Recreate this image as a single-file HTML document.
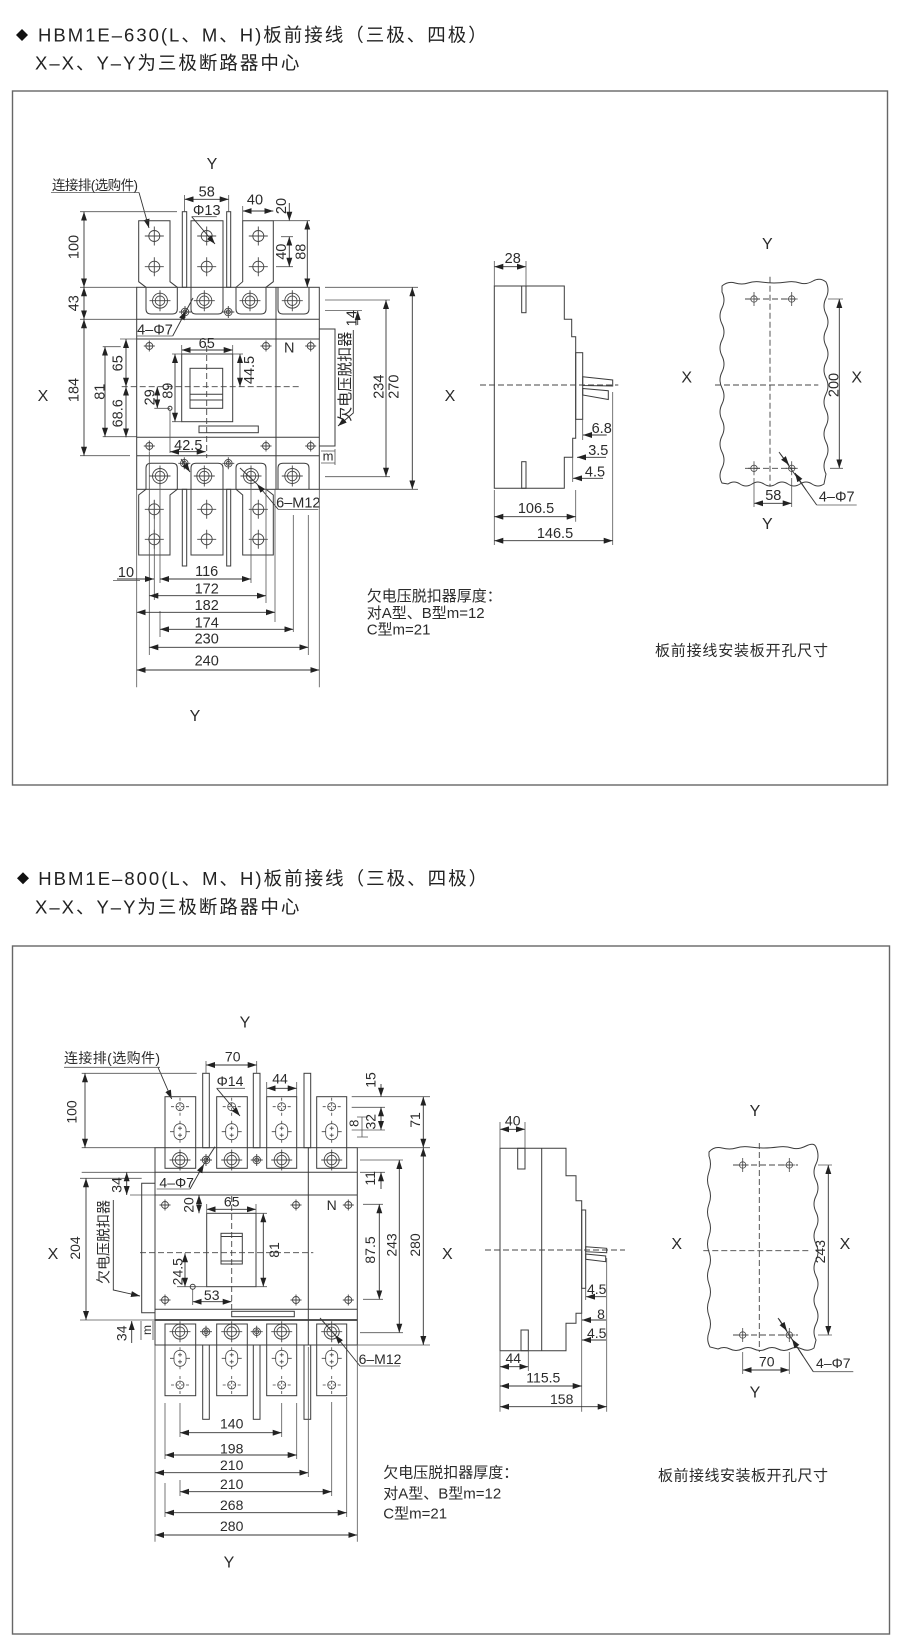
<!DOCTYPE html>
<html><head><meta charset="utf-8"><style>
html,body{margin:0;padding:0;background:#fff}
svg{display:block;font-family:"Liberation Sans","Noto Sans CJK SC",sans-serif}
svg text{fill:#2b2b2b}
.s{stroke:#3c3c3c;stroke-width:1;fill:none}
.e{stroke:#555;stroke-width:.8;fill:none}
.d{stroke:#333;stroke-width:.9;fill:none;marker-start:url(#a);marker-end:url(#a)}
.o{stroke:#333;stroke-width:.9;fill:none;marker-end:url(#a)}
.k{stroke:#444;stroke-width:.9;fill:none;stroke-dasharray:6 3}
.c{text-anchor:middle}
.b{stroke-width:1.8}
.ti{font-size:18.5px;letter-spacing:2px;fill:#222}
</style></head><body>
<svg xmlns="http://www.w3.org/2000/svg" width="904" height="1645" viewBox="0 0 904 1645" font-size="14.5">
<defs>
<marker id="a" viewBox="0 0 9 6" refX="9" refY="3" markerWidth="9" markerHeight="6" markerUnits="userSpaceOnUse" orient="auto-start-reverse"><path d="M0,0L9,3L0,6z" fill="#222"/></marker>
<g id="pl" fill="none" stroke="#444" stroke-width="0.9"><circle r="3.5"/><path d="M-5.5,0H5.5M0,-5.5V5.5"/></g>
<g id="tc" fill="none" stroke="#444" stroke-width="0.9"><circle r="7.5"/><circle r="4.8"/><path d="M-10.5,0H10.5M0,-10.5V10.5"/></g>
<g id="hc" fill="none" stroke="#444" stroke-width="0.9"><circle r="5.5"/><path d="M-9.5,0H9.5M0,-9.5V9.5"/></g>
<g id="h7" fill="none" stroke="#444" stroke-width="0.9"><circle r="3.8"/><circle r="2"/><path d="M-6,0H6M0,-6V6"/></g>
<g id="hs" fill="none" stroke="#444" stroke-width="0.8"><circle r="4"/><path d="M-9,0H9M0,-9V9" stroke-dasharray="3 2"/></g>
<g id="sl" fill="none" stroke="#444" stroke-width="0.8"><rect x="-6" y="-8" width="12" height="16" rx="6"/><path d="M-2,-3.5H2M0,-5.5V-1.5M-2,3.5H2M0,1.5V5.5M-10,0H-6M6,0H10M0,-11V-8M0,8V11"/></g>
<g id="mh" fill="none" stroke="#444" stroke-width="0.8"><circle r="3.2"/><path d="M-6,0H6M0,-7V7"/></g>
</defs>

<!-- ============ TITLES & FRAMES ============ -->
<path d="M22,29L28,35L22,41L16,35Z" fill="#111"/>
<text class="ti" x="38" y="41.5">HBM1E–630(L、M、H)板前接线（三极、四极）</text>
<text class="ti" x="35" y="69.5">X–X、Y–Y为三极断路器中心</text>
<rect x="12.5" y="91" width="875" height="694" fill="none" stroke="#666" stroke-width="1.4"/>

<path d="M23,872.3L29,878.3L23,884.3L17,878.3Z" fill="#111"/>
<text class="ti" x="38.3" y="885">HBM1E–800(L、M、H)板前接线（三极、四极）</text>
<text class="ti" x="35" y="913.5">X–X、Y–Y为三极断路器中心</text>
<rect x="12.5" y="946" width="877" height="688" fill="none" stroke="#666" stroke-width="1.4"/>

<!-- ============ SECTION 1 : FRONT VIEW ============ -->
<text class="c" x="212" y="169" font-size="16">Y</text>
<text x="52" y="190" font-size="13.5" textLength="86" lengthAdjust="spacing">连接排(选购件)</text>
<path class="e" d="M51,192.5H139"/>
<path class="o" d="M139,192.5L149,228"/>

<path class="e" d="M80,211.7H177M80,287.3H136.7M80,319.3H136.7M80,455.7H130M102.7,346.7H120.7M102.7,436.7H136.7M120,339H136.7"/>
<path class="d" d="M84,211.7V287.3"/>
<path class="d" d="M84,287.3V319.3"/>
<path class="d" d="M84,319.3V455.7"/>
<path class="d" d="M105,346.7V436.7"/>
<path class="d" d="M126,339V386.7"/>
<path class="d" d="M126,386.7V437.3"/>
<text class="c" transform="translate(73.3,247) rotate(-90)" y="5">100</text>
<text class="c" transform="translate(73.3,303.3) rotate(-90)" y="5">43</text>
<text class="c" transform="translate(73.3,390) rotate(-90)" y="5">184</text>
<text class="c" transform="translate(99.3,391.7) rotate(-90)" y="5">81</text>
<text class="c" transform="translate(117.3,363.3) rotate(-90)" y="5">65</text>
<text class="c" transform="translate(117.3,413.3) rotate(-90)" y="5">68.6</text>
<text class="c" x="43" y="401" font-size="16">X</text>

<!-- body -->
<rect class="s" x="136.7" y="287.3" width="182.6" height="202"/>
<path class="s" d="M136.7,319.3H319.3M136.7,339H319.3M136.7,437.3H319.3M136.7,455.7H319.3M276,287.3V489.3"/>
<!-- top bars/terminals -->
<path class="s" d="M138.7,220.7H170V281.7L177.3,287.3V309Q177.3,314 172.3,314H151Q146,314 146,309V287.3L138.7,281.7Z"/>
<path class="s" d="M191,220.7H223V309Q223,314 218,314H196Q191,314 191,309Z"/>
<path class="s" d="M242.7,220.7H273.3V281.7L266,287.3V309Q266,314 261,314H241Q236,314 236,309V287.3L242.7,281.7Z"/>
<path class="s" d="M278,287.3V309Q278,314 283,314H304Q309,314 309,309V287.3"/>
<rect class="s" x="182.3" y="211.7" width="4.4" height="75.6"/>
<rect class="s" x="226.7" y="211.7" width="4" height="75.6"/>
<use href="#hc" x="154.3" y="236"/><use href="#hc" x="154.3" y="266.7"/>
<use href="#hc" x="206.7" y="236"/><use href="#hc" x="206.7" y="266.7"/>
<use href="#hc" x="258.3" y="236"/><use href="#hc" x="258.3" y="266.7"/>
<use href="#tc" x="160" y="300.7"/><use href="#tc" x="204.3" y="300.7"/><use href="#tc" x="250" y="300.7"/><use href="#tc" x="292.3" y="300.7"/>
<use href="#h7" x="185" y="312"/><use href="#h7" x="228.3" y="312"/>
<!-- bottom bars/terminals -->
<path class="s" d="M146,489.3V468Q146,463.3 151,463.3H172.3Q177.3,463.3 177.3,468V489.3L170,495V555H138.7V495L146,489.3Z"/>
<path class="s" d="M191,555V468Q191,463.3 196,463.3H218Q223,463.3 223,468V555Z"/>
<path class="s" d="M236,489.3V468Q236,463.3 241,463.3H261Q266,463.3 266,468V489.3L273.3,495V555H242.7V495L236,489.3Z"/>
<path class="s" d="M278,489.3V468Q278,463.3 283,463.3H304Q309,463.3 309,468V489.3"/>
<rect class="s" x="182.3" y="489.3" width="4.4" height="76.7"/>
<rect class="s" x="226.7" y="489.3" width="4" height="76.7"/>
<use href="#tc" x="160" y="476"/><use href="#tc" x="204.3" y="476"/><use href="#tc" x="251" y="476"/><use href="#tc" x="292.3" y="476"/>
<use href="#hc" x="154.3" y="509.3"/><use href="#hc" x="154.3" y="539.3"/>
<use href="#hc" x="206.7" y="509.3"/><use href="#hc" x="206.7" y="539.3"/>
<use href="#hc" x="258.3" y="509.3"/><use href="#hc" x="258.3" y="539.3"/>
<use href="#h7" x="184.3" y="463.3"/><use href="#h7" x="228.3" y="463.3"/>

<!-- small screws -->
<use href="#pl" x="149.3" y="346"/><use href="#pl" x="266" y="346"/><use href="#pl" x="310.7" y="346"/>
<use href="#pl" x="149.3" y="446"/><use href="#pl" x="266" y="446"/><use href="#pl" x="310.7" y="446"/>
<text class="c" x="289.3" y="352.5">N</text>

<!-- handle -->
<rect class="s" x="181.7" y="354" width="51" height="67.7"/>
<rect class="s" x="190" y="368.3" width="32.7" height="40"/>
<path class="s" d="M190,394.3H222.7M190,400H222.7"/>
<path class="k" d="M206.7,346V458"/>
<path class="k" d="M121.7,386.7H301.7"/>
<rect class="s" x="199" y="426" width="59.3" height="6.7"/>
<path class="d" d="M181.7,350H232.7"/>
<path class="e" d="M181.7,345V354M232.7,345V354"/>
<text class="c" x="206.7" y="348">65</text>
<path class="d" d="M240,354V386.7"/>
<path class="e" d="M232.7,354H243"/>
<text class="c" transform="translate(249,370) rotate(-90)" y="5">44.5</text>
<path class="d" d="M175,354V421.7"/>
<path class="e" d="M172,354H181.7M172,421.7H181.7"/>
<text class="c" transform="translate(167.3,390.7) rotate(-90)" y="5">89</text>
<path class="d" d="M157.3,386.7V408.3"/>
<text class="c" transform="translate(149.3,397.3) rotate(-90)" y="5">29</text>
<path class="e" d="M154.3,408.3H170M170,410V453"/>
<circle class="s" cx="170" cy="408.3" r="2"/>
<path class="d" d="M170,451.7H205.7"/>
<text class="c" x="188.3" y="450">42.5</text>

<!-- 4-Φ7 -->
<text class="c" x="155" y="334.5">4–Φ7</text>
<path class="e" d="M136.7,336H172.7"/>
<path class="o" d="M172.7,336L186,311"/>
<path class="s" d="M186,311L193,298"/>

<!-- undervoltage release -->
<path class="s" d="M319.3,329H335V446H319.3"/>
<text class="c" transform="translate(345,376.7) rotate(-90)" y="5" font-size="15">欠电压脱扣器</text>
<path class="o" d="M353.3,330V413L338,426"/>
<path class="e" d="M321,451H335M321,463H335M335,449V465"/>
<text class="c" x="328" y="460.5" font-size="13">m</text>

<!-- right dims -->
<path class="e" d="M325,287.3H418M325,300H390M325,310.5H362M325,476.7H390M319.3,489.3H418"/>
<path class="o" d="M357.7,325V311"/>
<text class="c" transform="translate(351.7,318.3) rotate(-90)" y="5">14</text>
<path class="d" d="M386,300V476.7"/>
<path class="d" d="M412.3,287.3V489.3"/>
<text class="c" transform="translate(378.3,386.7) rotate(-90)" y="5">234</text>
<text class="c" transform="translate(393.3,386.7) rotate(-90)" y="5">270</text>

<!-- top dims -->
<path class="d" d="M184.5,199.3H228.7"/>
<path class="e" d="M184.5,195V211.7M228.7,195V211.7"/>
<text class="c" x="206.7" y="196.5">58</text>
<text class="c" x="206.7" y="215">Φ13</text>
<path class="e" d="M191.7,216.7H216.7"/>
<path class="o" d="M191.7,216.7L215,244"/>
<path class="d" d="M242.7,211H273.3"/>
<path class="e" d="M242.7,206V220.7"/>
<text class="c" x="255" y="204.3">40</text>
<path class="o" d="M289.3,203V220.7"/>
<path class="e" d="M273.3,220.7H310M281,236.7H293M276,266.7H293"/>
<text class="c" transform="translate(281,206) rotate(-90)" y="5">20</text>
<path class="d" d="M289.3,236.7V266.7"/>
<text class="c" transform="translate(281,251.7) rotate(-90)" y="5">40</text>
<path class="d" d="M307.3,220.7V287.3"/>
<text class="c" transform="translate(300.5,251.7) rotate(-90)" y="5">88</text>

<!-- 6-M12 -->
<text class="c" x="298.3" y="507.5">6–M12</text>
<path class="e" d="M278.3,509.5H318.3"/>
<path class="o" d="M278.3,509.5L257,484"/>
<path class="s" d="M257,484L240,468"/>
<path class="o" d="M181,459L190,472"/>

<!-- bottom dims -->
<path class="e" d="M136.7,489.3V687.3M149.3,452V655M154.3,500V600M160,486V583M160,611V637M251,486V583M266,470V603M275,489.3V622M293.3,515V632M308.3,515V655M319.3,489.3V687.3"/>
<path class="o" d="M117,579H154"/>
<text class="c" x="126" y="577">10</text>
<path class="e" d="M113,580.5H140"/>
<path class="d" d="M160,579H251"/>
<text class="c" x="206.7" y="576">116</text>
<path class="d" d="M149.3,595.7H266"/>
<text class="c" x="206.7" y="593.3">172</text>
<path class="d" d="M136.7,612.3H275"/>
<text class="c" x="206.7" y="610">182</text>
<path class="d" d="M160,629.3H293.3"/>
<text class="c" x="206.7" y="627.7">174</text>
<path class="d" d="M149.3,647.3H308.3"/>
<text class="c" x="206.7" y="643.7">230</text>
<path class="d" d="M136.7,670H319.3"/>
<text class="c" x="206.7" y="665.7">240</text>
<text class="c" x="195" y="721" font-size="16">Y</text>

<text x="366.7" y="601" font-size="15">欠电压脱扣器厚度：</text>
<text x="366.7" y="618" font-size="15">对A型、B型m=12</text>
<text x="366.7" y="634.5" font-size="15">C型m=21</text>

<!-- ============ SECTION 1 : SIDE VIEW ============ -->
<path class="s" d="M494.3,286H564.3V319.3H571.7V336.7H575.7V438.3H572.7V457.3H564.3V488.3H494.3Z"/>
<rect class="s" x="521.7" y="286" width="4.3" height="26.7"/>
<rect class="s" x="521.7" y="461.7" width="4.3" height="26.6"/>
<rect class="s" x="575.7" y="352.7" width="7" height="66.6"/>
<path class="s" d="M582.7,376.7L612.7,380V386L582.7,385.5Z"/>
<path class="s" d="M582.7,388.5L608.3,390.7V399.5L582.7,395Z"/>
<path class="k" d="M480,385H618.3"/>
<text class="c" x="450" y="401" font-size="16">X</text>
<path class="d" d="M494.3,266.7H526"/>
<path class="e" d="M494.3,261V286M526,261V286"/>
<text class="c" x="512.7" y="263">28</text>
<path class="o" d="M606.7,435H583"/>
<path class="e" d="M582.7,419.3V440M572.7,457.3V482"/>
<text class="c" x="601.7" y="433">6.8</text>
<path class="o" d="M606,457.3H577"/>
<text class="c" x="598.3" y="455">3.5</text>
<path class="o" d="M603,478.3H573"/>
<text class="c" x="595" y="476.5">4.5</text>
<path class="e" d="M575.7,490V521.7M612.7,392V545M494.3,490V545"/>
<path class="d" d="M494.3,516.7H575.7"/>
<text class="c" x="536" y="513">106.5</text>
<path class="d" d="M494.3,540.7H612.7"/>
<text class="c" x="555" y="538">146.5</text>

<!-- ============ SECTION 1 : CUTOUT PANEL ============ -->
<path class="s" d="M722,286Q728,281 735,283T748,283T761,282T774,283T787,282T800,283T813,281T826,282Q830,290 826,298T826,314T826,330T826,346T826,362T826,378T826,394T826,410T826,426T826,442T826,458T826,474L824,484Q818,488 812,484T800,484T788,484T776,484T764,484T752,484T740,484T728,484L722,483Q718,476 722,468T722,452T722,436T722,420T722,404T722,388T722,372T722,356T722,340T722,324T722,308T722,292L722,286Z"/>
<path class="k" d="M770,276.7V486.7M715,385H818.3M745,299H798M745,468.3H798"/>
<use href="#mh" x="754" y="299"/><use href="#mh" x="791.7" y="299"/><use href="#mh" x="754" y="468.3"/><use href="#mh" x="791.7" y="468.3"/>
<text class="c" x="767.3" y="249" font-size="16">Y</text>
<text class="c" x="767.3" y="529" font-size="16">Y</text>
<text class="c" x="686.7" y="382.5" font-size="16">X</text>
<text class="c" x="856.7" y="382.5" font-size="16">X</text>
<path class="d" d="M839.3,299V468.3"/>
<path class="e" d="M828,299H843M830,468.3H843"/>
<text class="c" transform="translate(833.3,385) rotate(-90)" y="5">200</text>
<path class="d" d="M754,503.3H791.7"/>
<path class="e" d="M754,478V507M791.7,478V507"/>
<text class="c" x="773.3" y="500">58</text>
<text class="c" x="836.7" y="501.5">4–Φ7</text>
<path class="e" d="M816.7,505H856.7"/>
<path class="s" d="M816.7,505L779,452"/>
<path class="o" d="M780,453.5L789,465"/>
<path class="o" d="M806,490L795,473"/>
<text x="655" y="655.5" font-size="15" textLength="173" lengthAdjust="spacing">板前接线安装板开孔尺寸</text>

<!-- ============ SECTION 2 : FRONT VIEW ============ -->
<g font-size="14">
<text class="c" x="245" y="1027.7" font-size="16">Y</text>
<text x="64" y="1063" textLength="96" lengthAdjust="spacing">连接排(选购件)</text>
<path class="e" d="M64,1067.3H160"/>
<path class="o" d="M158,1067.3L171.7,1099"/>

<path class="e" d="M81.7,1073.3H196.7M81.7,1147.7H155M81.7,1172.3H155M130,1195H155M80,1178.3H141.7M80,1320H155"/>
<path class="d" d="M85,1073.3V1147.7"/>
<text class="c" transform="translate(71.7,1112) rotate(-90)" y="5">100</text>
<path class="d" d="M126.7,1172.3V1195"/>
<text class="c" transform="translate(116.7,1185) rotate(-90)" y="5">34</text>
<path class="d" d="M86,1178.3V1320"/>
<text class="c" transform="translate(75,1248) rotate(-90)" y="5">204</text>
<text class="c" x="53" y="1259" font-size="16">X</text>

<path class="s" d="M155,1183.3H141.7V1312.7H155"/>
<path class="e" d="M141,1321V1340M153,1321V1340"/>
<text class="c" transform="translate(147,1330) rotate(-90)" y="4" font-size="12">m</text>
<path class="o" d="M131.7,1343V1321"/>
<text class="c" transform="translate(121.7,1333.3) rotate(-90)" y="5">34</text>
<text class="c" transform="translate(103.3,1242) rotate(-90)" y="5">欠电压脱扣器</text>
<path class="o" d="M113.3,1200V1290L140,1296"/>

<!-- body -->
<rect class="s" x="155" y="1147.7" width="202.3" height="197.3"/>
<path class="s" d="M155,1172.3H357.3M155,1195H357.3M155,1309.3H357.3M308.3,1147.7V1345"/>
<path class="s b" d="M155,1320H357.3"/>
<rect class="s" x="165" y="1096.7" width="30.7" height="71.6"/>
<rect class="s" x="216.7" y="1096.7" width="30.6" height="71.6"/>
<rect class="s" x="266.7" y="1096.7" width="30" height="71.6"/>
<rect class="s" x="316.7" y="1096.7" width="30" height="71.6"/>
<rect class="s" x="202.7" y="1073.3" width="6.6" height="74.4"/>
<rect class="s" x="253.3" y="1073.3" width="6.7" height="74.4"/>
<rect class="s" x="304" y="1073.3" width="6.7" height="74.4"/>
<use href="#hs" x="180" y="1106.7"/><use href="#hs" x="231.7" y="1106.7"/><use href="#hs" x="281.7" y="1106.7"/><use href="#hs" x="331.7" y="1106.7"/>
<use href="#sl" x="180" y="1131.7"/><use href="#sl" x="231.7" y="1131.7"/><use href="#sl" x="281.7" y="1131.7"/><use href="#sl" x="331.7" y="1131.7"/>
<use href="#tc" x="180" y="1160"/><use href="#tc" x="231.7" y="1160"/><use href="#tc" x="281.7" y="1160"/><use href="#tc" x="331.7" y="1160"/>
<use href="#h7" x="206" y="1160"/><use href="#h7" x="256.7" y="1160"/>

<rect class="s" x="165" y="1324" width="30.7" height="71.7"/>
<rect class="s" x="216.7" y="1324" width="30.6" height="71.7"/>
<rect class="s" x="266.7" y="1324" width="30" height="71.7"/>
<rect class="s" x="316.7" y="1324" width="30" height="71.7"/>
<rect class="s" x="202.7" y="1345" width="6.6" height="74.3"/>
<rect class="s" x="253.3" y="1345" width="6.7" height="74.3"/>
<rect class="s" x="304" y="1345" width="6.7" height="74.3"/>
<use href="#tc" x="180" y="1331.7"/><use href="#tc" x="231.7" y="1331.7"/><use href="#tc" x="281.7" y="1331.7"/><use href="#tc" x="331.7" y="1331.7"/>
<use href="#sl" x="180" y="1358.3"/><use href="#sl" x="231.7" y="1358.3"/><use href="#sl" x="281.7" y="1358.3"/><use href="#sl" x="331.7" y="1358.3"/>
<use href="#hs" x="180" y="1385"/><use href="#hs" x="231.7" y="1385"/><use href="#hs" x="281.7" y="1385"/><use href="#hs" x="331.7" y="1385"/>
<use href="#h7" x="206" y="1331.7"/><use href="#h7" x="256.7" y="1331.7"/>

<!-- top dims -->
<path class="d" d="M206,1065H256.7"/>
<path class="e" d="M206,1061V1073.3M256.7,1061V1073.3"/>
<text class="c" x="232.7" y="1061.7">70</text>
<text class="c" x="230" y="1086">Φ14</text>
<path class="e" d="M216.7,1088.3H245"/>
<path class="o" d="M216.7,1088.3L240,1116"/>
<path class="d" d="M266.7,1088.3H296.7"/>
<path class="e" d="M266.7,1082V1096.7M296.7,1082V1096.7"/>
<text class="c" x="280" y="1083.3">44</text>

<!-- right dims -->
<path class="e" d="M351.7,1096.7H430M351.7,1107.3H385M351.7,1130H385M357,1117H368M357,1137H368M362,1117V1137"/>
<path class="o" d="M381,1084V1096.7"/>
<text class="c" transform="translate(370.7,1080) rotate(-90)" y="5">15</text>
<path class="d" d="M381,1107.3V1130"/>
<text class="c" transform="translate(370.7,1121.7) rotate(-90)" y="5">32</text>
<text class="c" transform="translate(353.3,1123.3) rotate(-90)" y="5" font-size="13">8</text>
<path class="d" d="M423.3,1096.7V1147.7"/>
<text class="c" transform="translate(415,1120) rotate(-90)" y="5">71</text>
<path class="e" d="M357.3,1147.7H430M360,1160H403M360,1172.3H385"/>
<path class="o" d="M381,1189V1172.3"/>
<text class="c" transform="translate(370,1178.3) rotate(-90)" y="5">11</text>
<path class="d" d="M399.3,1160V1332.7"/>
<path class="e" d="M360,1332.7H403M363,1204.3H383M363,1299.3H383M357.3,1345H430"/>
<text class="c" transform="translate(391.7,1245) rotate(-90)" y="5">243</text>
<path class="d" d="M379.3,1204.3V1299.3"/>
<text class="c" transform="translate(370,1250) rotate(-90)" y="5">87.5</text>
<path class="d" d="M423.3,1147.7V1345"/>
<text class="c" transform="translate(415,1245) rotate(-90)" y="5">280</text>

<!-- screws and handle -->
<use href="#pl" x="165" y="1205"/><use href="#pl" x="296" y="1205"/><use href="#pl" x="348.3" y="1205"/>
<use href="#pl" x="165" y="1300"/><use href="#pl" x="296" y="1300"/><use href="#pl" x="348.3" y="1300"/>
<text class="c" x="331.7" y="1210">N</text>
<rect class="s" x="206.7" y="1213.3" width="49.3" height="73.4"/>
<rect class="s" x="221" y="1233.3" width="21.3" height="30.7"/>
<path class="s" d="M221,1236.5H242.3M221,1261H242.3"/>
<path class="k" d="M231.7,1196V1312M140,1252.7H313.3"/>
<rect class="s" x="231.7" y="1311.3" width="62.6" height="5.4"/>
<path class="d" d="M206.7,1209.3H256"/>
<path class="e" d="M206.7,1204V1213.3M256,1204V1213.3"/>
<text class="c" x="231.7" y="1206.5">65</text>
<path class="d" d="M263.3,1213.3V1286.7"/>
<path class="e" d="M256,1213.3H267M256,1286.7H267"/>
<text class="c" transform="translate(274,1250) rotate(-90)" y="5">81</text>
<path class="d" d="M199,1195V1213.3"/>
<text class="c" transform="translate(188.3,1205) rotate(-90)" y="5">20</text>
<path class="d" d="M185,1253.3V1286.7"/>
<path class="e" d="M177,1286.7H206.7M192.7,1289V1305"/>
<text class="c" transform="translate(177.3,1271.7) rotate(-90)" y="5">24.5</text>
<circle class="s" cx="192.7" cy="1286.7" r="2.5"/>
<path class="d" d="M192.7,1301.7H231.7"/>
<text class="c" x="211.7" y="1300">53</text>

<text class="c" x="176.7" y="1187.5">4–Φ7</text>
<path class="e" d="M156.7,1189H190"/>
<path class="o" d="M190,1189L204,1164"/>
<path class="s" d="M204,1164L215,1146.7"/>

<text class="c" x="380" y="1364">6–M12</text>
<path class="e" d="M360,1366H400"/>
<path class="o" d="M360,1366L335,1335"/>
<path class="s" d="M335,1335L320,1318"/>

<!-- bottom dims -->
<path class="e" d="M180,1403V1437M281.7,1403V1437M165,1403V1459M296.7,1403V1459M155,1345V1541.7M308.3,1347V1477M180,1480V1496M331.7,1402V1496M165,1483V1517M346.7,1397V1517M357.3,1345V1541.7"/>
<path class="d" d="M180,1432.7H281.7"/>
<text class="c" x="231.7" y="1428.3">140</text>
<path class="d" d="M165,1455H296.7"/>
<text class="c" x="231.7" y="1453.3">198</text>
<path class="d" d="M155,1472.7H308.3"/>
<text class="c" x="231.7" y="1470">210</text>
<path class="d" d="M180,1491.7H331.7"/>
<text class="c" x="231.7" y="1489">210</text>
<path class="d" d="M165,1512.7H346.7"/>
<text class="c" x="231.7" y="1510">268</text>
<path class="d" d="M155,1535H357.3"/>
<text class="c" x="231.7" y="1531">280</text>
<text class="c" x="229" y="1567.5" font-size="16">Y</text>

<text x="383.3" y="1477.7" font-size="15">欠电压脱扣器厚度：</text>
<text x="383.3" y="1498.3" font-size="15">对A型、B型m=12</text>
<text x="383.3" y="1518.3" font-size="15">C型m=21</text>

<!-- ============ SECTION 2 : SIDE VIEW ============ -->
<path class="s" d="M500,1148.3H566V1175.7H576V1200.7H581.7V1313.3H576V1323.3H566V1350.7H500Z"/>
<path class="s" d="M541.7,1148.3V1350.7"/>
<rect class="s" x="517.7" y="1148.3" width="7.3" height="20.7"/>
<rect class="s" x="521" y="1330" width="7.3" height="20.7"/>
<rect class="s" x="581.7" y="1210" width="4" height="78.3"/>
<path class="s" d="M585.7,1246.7L606.7,1248.3V1252.7L585.7,1251.7Z"/>
<path class="s" d="M585.7,1254L605.7,1256V1261.7L585.7,1259.3Z"/>
<path class="k" d="M485,1250H625"/>
<text class="c" x="447.3" y="1259" font-size="16">X</text>
<path class="d" d="M500,1129.3H525"/>
<path class="e" d="M500,1122V1148.3M525,1122V1148.3"/>
<text class="c" x="512.7" y="1125.7">40</text>
<path class="o" d="M606,1296.7H586"/>
<path class="e" d="M585.7,1288.3V1300"/>
<text class="c" x="596.7" y="1294">4.5</text>
<path class="o" d="M606,1320H582"/>
<text class="c" x="601" y="1319">8</text>
<path class="o" d="M606,1340H582"/>
<text class="c" x="596.7" y="1338">4.5</text>
<path class="e" d="M581.7,1313.3V1411.7M606.7,1258V1411.7M500,1350.7V1411.7M528.3,1350.7V1371"/>
<path class="d" d="M500,1366.7H528.3"/>
<text class="c" x="513.3" y="1363">44</text>
<path class="d" d="M500,1386H581.7"/>
<text class="c" x="543.3" y="1382.5">115.5</text>
<path class="d" d="M500,1406.7H606.7"/>
<text class="c" x="561.7" y="1404">158</text>

<!-- ============ SECTION 2 : CUTOUT PANEL ============ -->
<path class="s" d="M709,1152Q714,1146 722,1148T736,1148T750,1147T764,1148T778,1147T792,1148T806,1146T816,1147Q820,1156 816,1164T816,1180T816,1196T816,1212T816,1228T816,1244T816,1260T816,1276T816,1292T816,1308T816,1324T816,1340L814,1348Q808,1352 802,1349T790,1349T778,1349T766,1349T754,1349T742,1349T730,1349T718,1349L710,1347Q706,1340 709,1332T709,1316T709,1300T709,1284T709,1268T709,1252T709,1236T709,1220T709,1204T709,1188T709,1172T709,1156L709,1152Z"/>
<path class="k" d="M759.3,1143V1352M703.3,1250.7H810M733,1165H798M733,1335H798"/>
<use href="#mh" x="742.7" y="1165"/><use href="#mh" x="789.3" y="1165"/><use href="#mh" x="742.7" y="1335"/><use href="#mh" x="789.3" y="1335"/>
<text class="c" x="755" y="1116" font-size="16">Y</text>
<text class="c" x="755" y="1397.5" font-size="16">Y</text>
<text class="c" x="676.7" y="1249" font-size="16">X</text>
<text class="c" x="845" y="1249" font-size="16">X</text>
<path class="d" d="M828.3,1165V1335"/>
<path class="e" d="M818,1165H832M818,1335H832"/>
<text class="c" transform="translate(820,1251.7) rotate(-90)" y="5">243</text>
<path class="d" d="M742.7,1370H789.3"/>
<path class="e" d="M742.7,1352V1374M789.3,1352V1374"/>
<text class="c" x="766.7" y="1366.7">70</text>
<text class="c" x="833.3" y="1368">4–Φ7</text>
<path class="e" d="M813.3,1371.7H853.3"/>
<path class="s" d="M813.3,1371.7L778,1318"/>
<path class="o" d="M779,1319L787,1331"/>
<path class="o" d="M803,1356L792,1339"/>
<text x="658" y="1480.5" font-size="15" textLength="170" lengthAdjust="spacing">板前接线安装板开孔尺寸</text>
</g>
</svg>
</body></html>
